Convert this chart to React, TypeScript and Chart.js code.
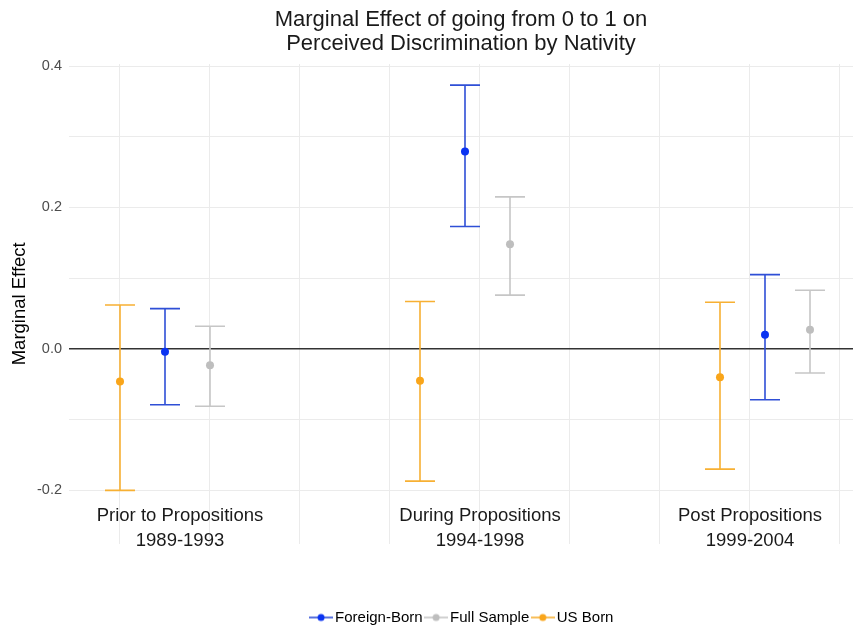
import { useEffect, useRef } from "react";
import { Chart, registerables } from "chart.js";

Chart.register(...registerables);

// ---- data ----
const periodNames = ["Prior to Propositions", "During Propositions", "Post Propositions"];
const periodYears = ["1989-1993", "1994-1998", "1999-2004"];
const seriesNames = ["Foreign-Born", "Full Sample", "US Born"];

const foreignEst = [-0.004, 0.279, 0.02];
const foreignLow = [-0.079, 0.173, -0.072];
const foreignHigh = [0.057, 0.373, 0.105];

const fullEst = [-0.023, 0.148, 0.027];
const fullLow = [-0.081, 0.076, -0.034];
const fullHigh = [0.032, 0.215, 0.083];

const usEst = [-0.046, -0.045, -0.04];
const usLow = [-0.2, -0.187, -0.17];
const usHigh = [0.062, 0.067, 0.066];

const yTicks = [-0.2, -0.1, 0, 0.1, 0.2, 0.3, 0.4];
const yTickLabels = ["-0.2", "", "0.0", "", "0.2", "", "0.4"];

// ---- x placement (axis units) ----
const periodX = [11, 31, 51];
const seriesOffset = [0, 3, -3];
const labelX = [12, 32, 50];
const xGrid = [8, 14, 20, 26, 32, 38, 44, 50, 56];
const capHalf = 1;

const FONT = "'Liberation Sans', Arial, Helvetica, sans-serif";
const pointColors = ["#0a33f2", "#bebebe", "#f9a51a"];
const barColors = ["#2f4fd6", "#c6c6c6", "#f7b033"];

function makeMarker(lineColor: string, dotColor: string) {
  const c = document.createElement("canvas");
  c.width = 24;
  c.height = 10;
  const g = c.getContext("2d")!;
  g.strokeStyle = lineColor;
  g.lineWidth = 1.6;
  g.beginPath();
  g.moveTo(0, 5);
  g.lineTo(24, 5);
  g.stroke();
  g.fillStyle = dotColor;
  g.beginPath();
  g.arc(12, 5, 3.5, 0, Math.PI * 2);
  g.fill();
  return c;
}

const errorBarPlugin = {
  id: "errorBars",
  beforeDatasetsDraw(chart: any) {
    const { ctx, scales } = chart;
    const x = scales.x;
    const y = scales.y;
    chart.data.datasets.forEach((ds: any) => {
      ctx.save();
      ctx.strokeStyle = ds.barColor;
      ctx.lineWidth = 1.6;
      ds.data.forEach((pt: any) => {
        const px = x.getPixelForValue(pt.x);
        const l = x.getPixelForValue(pt.x - capHalf);
        const r = x.getPixelForValue(pt.x + capHalf);
        const yl = y.getPixelForValue(pt.lo);
        const yh = y.getPixelForValue(pt.hi);
        ctx.beginPath();
        ctx.moveTo(px, yl);
        ctx.lineTo(px, yh);
        ctx.moveTo(l, yl);
        ctx.lineTo(r, yl);
        ctx.moveTo(l, yh);
        ctx.lineTo(r, yh);
        ctx.stroke();
      });
      ctx.restore();
    });
  },
};

const periodLabelPlugin = {
  id: "periodLabels",
  afterDatasetsDraw(chart: any) {
    const { ctx, scales, chartArea } = chart;
    const x = scales.x;
    ctx.save();
    ctx.fillStyle = "#1a1a1a";
    ctx.font = `18.5px ${FONT}`;
    ctx.textAlign = "center";
    ctx.textBaseline = "alphabetic";
    periodNames.forEach((name, i) => {
      const cx = x.getPixelForValue(labelX[i]);
      ctx.fillText(name, cx, chartArea.bottom - 23);
      ctx.fillText(periodYears[i], cx, chartArea.bottom + 2);
    });
    ctx.restore();
  },
};

// nudge the legend box to the right so its markers sit like the reference
const legendNudgePlugin = {
  id: "legendNudge",
  beforeDraw(chart: any) {
    const lg = chart.legend;
    if (lg && !lg._nudged) {
      lg.left += 3;
      lg.right += 3;
      lg._nudged = true;
    }
  },
};

export default function App() {
  const ref = useRef<HTMLCanvasElement>(null);

  useEffect(() => {
    document.body.style.margin = "0";
    const est = [foreignEst, fullEst, usEst];
    const low = [foreignLow, fullLow, usLow];
    const high = [foreignHigh, fullHigh, usHigh];
    const markers = seriesNames.map((_, i) => makeMarker(barColors[i], pointColors[i]));

    const datasets = seriesNames.map((name, s) => ({
      label: name,
      data: periodX.map((px, p) => ({
        x: px + seriesOffset[s],
        y: est[s][p],
        lo: low[s][p],
        hi: high[s][p],
      })),
      barColor: barColors[s],
      backgroundColor: pointColors[s],
      borderColor: pointColors[s],
      pointRadius: 4,
      pointBorderWidth: 0,
      showLine: false,
    }));

    const chart = new Chart(ref.current!, {
      type: "scatter",
      data: { datasets } as any,
      plugins: [errorBarPlugin, periodLabelPlugin, legendNudgePlugin],
      options: {
        animation: false,
        responsive: false,
        devicePixelRatio: 1,
        events: [],
        layout: { autoPadding: false, padding: { left: 0, right: 0, top: 0, bottom: -9 } },
        plugins: {
          tooltip: { enabled: false },
          title: {
            display: true,
            fullSize: false,
            text: ["Marginal Effect of going from 0 to 1 on", "Perceived Discrimination by Nativity"],
            color: "#1a1a1a",
            font: { size: 22, family: FONT, weight: "normal", lineHeight: 1.07 },
            padding: { top: 8.5, bottom: 8.5 },
          },
          legend: {
            position: "bottom",
            fullSize: false,
            labels: {
              usePointStyle: true,
              pointStyleWidth: 13,
              padding: 7,
              color: "#1a1a1a",
              font: { size: 15, family: FONT },
              generateLabels: () =>
                seriesNames.map((name, i) => ({
                  text: name,
                  pointStyle: markers[i],
                  fillStyle: pointColors[i],
                  strokeStyle: barColors[i],
                  lineWidth: 0,
                  hidden: false,
                  datasetIndex: i,
                })) as any,
            },
          },
        },
        scales: {
          x: {
            type: "linear",
            min: 4.6,
            max: 56.867,
            afterBuildTicks: (s: any) => {
              s.ticks = xGrid.map((v) => ({ value: v }));
            },
            ticks: { display: false },
            grid: { color: "#ebebeb", lineWidth: 1, drawTicks: false },
            border: { display: false },
            afterFit: (s: any) => {
              s.height = 59.5;
            },
          },
          y: {
            type: "linear",
            min: -0.2752,
            max: 0.4028,
            afterBuildTicks: (s: any) => {
              s.ticks = yTicks.map((v) => ({ value: v }));
            },
            ticks: {
              callback: (_v: any, i: number) => yTickLabels[i],
              padding: 7,
              color: "#4d4d4d",
              font: { size: 14.5, family: FONT },
              autoSkip: false,
            },
            grid: {
              color: (c: any) => (c.tick && c.tick.value === 0 ? "#333333" : "#ebebeb"),
              lineWidth: (c: any) => (c.tick && c.tick.value === 0 ? 1.5 : 1),
              drawTicks: false,
            },
            border: { display: false },
            title: {
              display: true,
              text: "Marginal Effect",
              color: "#000000",
              font: { size: 18.5, family: FONT },
              padding: { top: 9, bottom: 0 },
            },
            afterFit: (s: any) => {
              s.width = 69;
            },
          },
        },
      } as any,
    });
    return () => chart.destroy();
  }, []);

  return <canvas ref={ref} width={853} height={626} style={{ display: "block" }} />;
}
